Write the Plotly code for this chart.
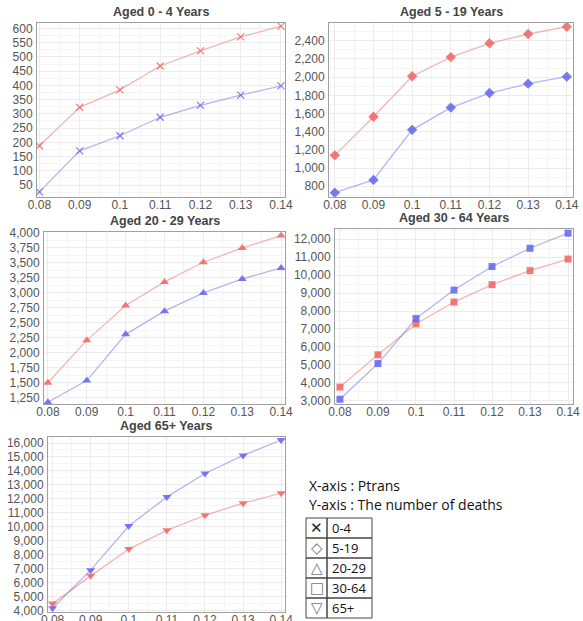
import plotly.graph_objects as go

W, H = 583, 621

ptrans = [0.08, 0.09, 0.10, 0.11, 0.12, 0.13, 0.14]

titles = ["Aged 0 - 4 Years", "Aged 5 - 19 Years", "Aged 20 - 29 Years",
          "Aged 30 - 64 Years", "Aged 65+ Years"]

red_0_4 = [188, 323, 384, 468, 521, 570, 608]
blue_0_4 = [26, 170, 223, 288, 330, 366, 398]

red_5_19 = [1140, 1565, 2010, 2220, 2372, 2474, 2554]
blue_5_19 = [730, 870, 1420, 1665, 1825, 1928, 2005]

red_20_29 = [1500, 2205, 2787, 3179, 3506, 3744, 3950]
blue_20_29 = [1175, 1535, 2305, 2692, 2996, 3229, 3412]

red_30_64 = [3760, 5560, 7280, 8500, 9470, 10250, 10900]
blue_30_64 = [3080, 5070, 7580, 9170, 10480, 11500, 12340]

red_65 = [4480, 6470, 8392, 9738, 10818, 11682, 12402]
blue_65 = [4150, 6880, 10048, 12136, 13814, 15107, 16216]

legend_labels = ["0-4", "5-19", "20-29", "30-64", "65+"]
legend_glyphs = ["\u2715", "\u25C7", "\u25B3", "\u25A1", "\u25BD"]

symbols = ["x-thin", "diamond", "triangle-up", "square", "triangle-down"]
sizes = [7, 8, 8, 7, 8]

series = [(red_0_4, blue_0_4), (red_5_19, blue_5_19), (red_20_29, blue_20_29),
          (red_30_64, blue_30_64), (red_65, blue_65)]

# pixel boxes: (left, right, top, bottom)
boxes = [(37, 285, 23, 197), (329, 573, 23, 197), (44, 285, 232, 404),
         (335, 573, 229, 404), (48, 285, 437, 612)]
xranges = [[0.0794, 0.141], [0.0785, 0.1416], [0.079, 0.141],
           [0.0787, 0.1413], [0.0788, 0.141]]
yranges = [[8, 619], [682, 2595], [1145, 4010], [2816, 12574], [3878, 16432]]
ydticks = [50, 200, 250, 1000, 1000]
ytick0 = [50, 800, 1250, 3000, 4000]

RED_LINE = "rgba(232,120,120,0.55)"
RED_MK = "rgba(238,100,100,0.85)"
BLUE_LINE = "rgba(120,120,232,0.55)"
BLUE_MK = "rgba(100,100,238,0.85)"

fig = go.Figure()
layout = {}
annotations = []
font_family = "Liberation Sans, Arial, sans-serif"

for i in range(5):
    l, r, t, b = boxes[i]
    xa = "x" if i == 0 else f"x{i+1}"
    ya = "y" if i == 0 else f"y{i+1}"
    red, blue = series[i]
    sym = symbols[i]
    is_x = sym == "x-thin"
    for vals, lc, mc in ((red, RED_LINE, RED_MK), (blue, BLUE_LINE, BLUE_MK)):
        fig.add_trace(go.Scatter(
            x=ptrans, y=vals, xaxis=xa, yaxis=ya, mode="lines+markers",
            line=dict(color=lc, width=1.3),
            marker=dict(symbol=sym, size=sizes[i], color=mc,
                        line=dict(color=mc, width=1.2 if is_x else 0)),
            showlegend=False, hoverinfo="x+y"))
    common = dict(showline=True, linecolor="#a0a0a0", linewidth=1, mirror=True,
                  gridcolor="#ececec", gridwidth=1, zeroline=False, automargin=False,
                  ticks="", tickfont=dict(family=font_family, size=12, color="#555"))
    layout["xaxis" if i == 0 else f"xaxis{i+1}"] = dict(
        domain=[l / W, r / W], anchor=ya, range=xranges[i],
        tickvals=ptrans, ticktext=[f"{v:g}" for v in ptrans],
        minor=dict(dtick=0.005, tick0=0.08, showgrid=True, gridcolor="#f3f3f3"),
        ticklabelstandoff=-3, **common)
    layout["yaxis" if i == 0 else f"yaxis{i+1}"] = dict(
        domain=[1 - b / H, 1 - t / H], anchor=xa, range=yranges[i],
        tick0=ytick0[i], dtick=ydticks[i], tickformat=",d",
        minor=dict(dtick=ydticks[i] / 2, tick0=ytick0[i], showgrid=True, gridcolor="#f5f5f5"),
        ticklabelstandoff=1, **common)
    annotations.append(dict(
        text=f"<b>{titles[i]}</b>", xref="paper", yref="paper",
        x=(l + r) / 2 / W, y=1 - (t - 11) / H, showarrow=False,
        font=dict(family=font_family, size=12.5, color="#444"),
        xanchor="center", yanchor="middle"))

# legend text
note_font = dict(family="Open Sans, sans-serif", size=14, color="#111")
annotations.append(dict(text="X-axis : Ptrans", xref="paper", yref="paper",
                        x=307 / W, y=1 - 485 / H, showarrow=False,
                        xanchor="left", yanchor="middle", font=note_font))
annotations.append(dict(text="Y-axis : The number of deaths", xref="paper", yref="paper",
                        x=307 / W, y=1 - 505 / H, showarrow=False,
                        xanchor="left", yanchor="middle", font=note_font))

shapes = []
tl, tm, tr = 306, 327, 372
row_top = 518
row_h = 20
for k in range(len(legend_labels)):
    y0 = row_top + k * row_h
    y1 = y0 + row_h
    for (a, c) in ((tl, tm), (tm, tr)):
        shapes.append(dict(type="rect", xref="paper", yref="paper",
                           x0=a / W, x1=c / W, y0=1 - y1 / H, y1=1 - y0 / H,
                           line=dict(color="#444", width=1)))
    annotations.append(dict(text=legend_glyphs[k], xref="paper", yref="paper",
                            x=(tl + tm) / 2 / W, y=1 - (y0 + row_h / 2) / H,
                            showarrow=False, xanchor="center", yanchor="middle",
                            font=dict(family="DejaVu Sans", size=15,
                                      color="#222" if k == 0 else "#777")))
    annotations.append(dict(text=legend_labels[k], xref="paper", yref="paper",
                            x=(tm + 3) / W, y=1 - (y0 + row_h / 2) / H,
                            showarrow=False, xanchor="left", yanchor="middle",
                            font=dict(family="Open Sans, sans-serif", size=13, color="#111")))

fig.update_layout(width=W, height=H, margin=dict(l=0, r=0, t=0, b=0, autoexpand=False),
                  paper_bgcolor="white", plot_bgcolor="white",
                  annotations=annotations, shapes=shapes, **layout)

fig.write_html("out.html", config={"displayModeBar": False},
               post_script="document.body.style.margin='0px';")
